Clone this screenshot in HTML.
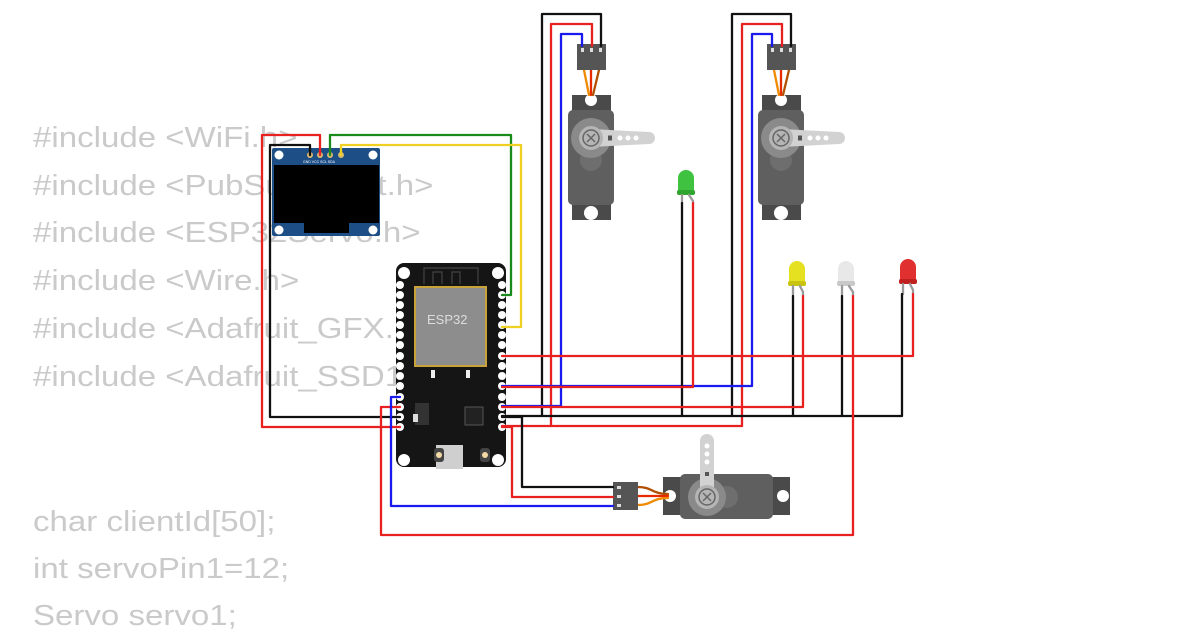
<!DOCTYPE html>
<html><head><meta charset="utf-8"><style>
html,body{margin:0;padding:0;background:#fff;width:1200px;height:630px;overflow:hidden}
svg{display:block}
.code{font-family:"Liberation Sans",sans-serif;font-size:29px;fill:#cacaca}
.w{fill:none;stroke-width:2.3;stroke-linejoin:round;stroke-linecap:round}
</style></head><body>
<svg width="1200" height="630" viewBox="0 0 1200 630" xmlns="http://www.w3.org/2000/svg">
<defs>
<g id="servoV">
  <rect x="-19" y="-43" width="39" height="125" fill="#4a4a4a"/>
  <rect x="-23" y="-28" width="46" height="95" rx="5" fill="#5f5f5f"/>
  <circle cx="0" cy="-38" r="6" fill="#fff"/>
  <circle cx="0" cy="75" r="7" fill="#fff"/>
  <circle cx="0" cy="22" r="11" fill="#6e6e6e"/>
  <circle cx="0" cy="0" r="20" fill="#8a8a8a"/>
  <path d="M0,-9 L58,-6 A6,6 0 0 1 58,6 L0,9 Z" fill="#d2d2d2"/>
  <circle cx="0" cy="0" r="12" fill="#b5b5b5"/>
  <circle cx="0" cy="0" r="8" fill="none" stroke="#666" stroke-width="1.5"/>
  <path d="M-4,-4L4,4M4,-4L-4,4" stroke="#666" stroke-width="1.5"/>
  <circle cx="29" cy="0" r="2.5" fill="#fff"/><circle cx="37" cy="0" r="2.5" fill="#fff"/><circle cx="45" cy="0" r="2.5" fill="#fff"/>
  <rect x="17" y="-2.5" width="4" height="5" fill="#555"/>
</g>
<g id="led">
  <path d="M-8,22 L-8,8 A8,8 0 0 1 8,8 L8,22 Z"/>
</g>
</defs>

<!-- code text -->
<g class="code" transform="translate(33,0) scale(1.14,1) translate(-33,0)">
<text x="33" y="147">#include &lt;WiFi.h&gt;</text>
<text x="33" y="195">#include &lt;PubSubClient.h&gt;</text>
<text x="33" y="242">#include &lt;ESP32Servo.h&gt;</text>
<text x="33" y="290">#include &lt;Wire.h&gt;</text>
<text x="33" y="338">#include &lt;Adafruit_GFX.h&gt;</text>
<text x="33" y="386">#include &lt;Adafruit_SSD1306.h&gt;</text>
<text x="33" y="531">char clientId[50];</text>
<text x="33" y="578">int servoPin1=12;</text>
<text x="33" y="625">Servo servo1;</text>
</g>

<!-- OLED -->
<rect x="272" y="148" width="108" height="88" rx="2" fill="#1d4f86"/>
<rect x="274" y="165" width="105" height="58" fill="#000"/>
<rect x="304" y="222" width="45" height="11" fill="#000"/>
<circle cx="279" cy="155" r="4.5" fill="#fff"/><circle cx="373" cy="155" r="4.5" fill="#fff"/>
<circle cx="279" cy="230" r="4.5" fill="#fff"/><circle cx="373" cy="230" r="4.5" fill="#fff"/>
<circle cx="310" cy="155" r="3" fill="#d8b870"/><circle cx="320" cy="155" r="3" fill="#d8b870"/>
<circle cx="330" cy="155" r="3" fill="#d8b870"/><circle cx="341" cy="155" r="3" fill="#d8b870"/>
<text x="303" y="163" font-size="3.5" fill="#fff" font-family="Liberation Sans,sans-serif">GND VCC SCL SDA</text>

<!-- ESP32 -->
<rect x="396" y="263" width="110" height="204" rx="8" fill="#151515"/>
<circle cx="404" cy="273" r="6" fill="#fff"/><circle cx="498" cy="273" r="6" fill="#fff"/>
<circle cx="404" cy="460" r="6" fill="#fff"/><circle cx="498" cy="460" r="6" fill="#fff"/>
<path d="M424,284 V268 H478 V284 M433,284 V272 H442 V284 M452,284 V272 H460 V284" fill="none" stroke="#444" stroke-width="1.2"/>
<rect x="414" y="286" width="73" height="81" fill="#c9a33a"/>
<rect x="416" y="288" width="69" height="77" fill="#8d8d8d"/>
<text x="427" y="324" font-size="13" fill="#ddd" font-family="Liberation Sans,sans-serif">ESP32</text>
<rect x="431" y="370" width="4" height="8" fill="#eee"/><rect x="466" y="370" width="4" height="8" fill="#eee"/>
<rect x="415" y="403" width="14" height="22" fill="#333"/><rect x="413" y="414" width="5" height="8" fill="#ddd"/>
<rect x="465" y="407" width="18" height="18" fill="#222" stroke="#555"/>
<rect x="436" y="445" width="27" height="24" fill="#cfcfcf"/>
<rect x="434" y="448" width="10" height="14" rx="3" fill="#444"/><circle cx="439" cy="455" r="3" fill="#f4d9a5"/>
<rect x="480" y="448" width="10" height="14" rx="3" fill="#444"/><circle cx="485" cy="455" r="3" fill="#f4d9a5"/>
<g fill="#fff">
<circle cx="400" cy="285" r="4"/><circle cx="400" cy="295" r="4"/><circle cx="400" cy="305" r="4"/><circle cx="400" cy="315" r="4"/><circle cx="400" cy="325" r="4"/><circle cx="400" cy="335" r="4"/><circle cx="400" cy="345" r="4"/><circle cx="400" cy="356" r="4"/><circle cx="400" cy="366" r="4"/><circle cx="400" cy="376" r="4"/><circle cx="400" cy="386" r="4"/><circle cx="400" cy="397" r="4"/><circle cx="400" cy="407" r="4"/><circle cx="400" cy="417" r="4"/><circle cx="400" cy="427" r="4"/>
<circle cx="502" cy="285" r="4"/><circle cx="502" cy="295" r="4"/><circle cx="502" cy="305" r="4"/><circle cx="502" cy="315" r="4"/><circle cx="502" cy="325" r="4"/><circle cx="502" cy="335" r="4"/><circle cx="502" cy="345" r="4"/><circle cx="502" cy="356" r="4"/><circle cx="502" cy="366" r="4"/><circle cx="502" cy="376" r="4"/><circle cx="502" cy="386" r="4"/><circle cx="502" cy="397" r="4"/><circle cx="502" cy="407" r="4"/><circle cx="502" cy="417" r="4"/><circle cx="502" cy="427" r="4"/>
</g>

<!-- Servos vertical -->
<use href="#servoV" x="591" y="138"/>
<use href="#servoV" x="781" y="138"/>
<g class="w" stroke-width="2.5">
<path d="M584,70 L589,95" stroke="#f08a00"/><path d="M591,70 L591,95" stroke="#e82a00"/><path d="M599,70 L593,95" stroke="#b05000"/>
<path d="M774,70 L779,95" stroke="#f08a00"/><path d="M781,70 L781,95" stroke="#e82a00"/><path d="M789,70 L783,95" stroke="#b05000"/>
</g>
<rect x="577" y="44" width="29" height="26" fill="#555"/>
<rect x="767" y="44" width="29" height="26" fill="#555"/>
<g fill="#ddd"><rect x="581" y="48" width="3" height="4"/><rect x="590" y="48" width="3" height="4"/><rect x="599" y="48" width="3" height="4"/>
<rect x="771" y="48" width="3" height="4"/><rect x="780" y="48" width="3" height="4"/><rect x="789" y="48" width="3" height="4"/></g>

<!-- Servo horizontal -->
<rect x="663" y="477" width="127" height="38" fill="#4a4a4a"/>
<rect x="680" y="474" width="93" height="45" rx="5" fill="#5f5f5f"/>
<circle cx="670" cy="496" r="6" fill="#fff"/><circle cx="783" cy="496" r="6" fill="#fff"/>
<circle cx="727" cy="497" r="11" fill="#6e6e6e"/>
<circle cx="707" cy="497" r="19" fill="#8a8a8a"/>
<path d="M700,497 L700,441 A7,7 0 0 1 714,441 L714,497 Z" fill="#d2d2d2"/>
<circle cx="707" cy="497" r="12" fill="#b5b5b5"/>
<circle cx="707" cy="497" r="8" fill="none" stroke="#666" stroke-width="1.5"/>
<path d="M703,493L711,501M711,493L703,501" stroke="#666" stroke-width="1.5"/>
<circle cx="707" cy="446" r="2.5" fill="#fff"/><circle cx="707" cy="454" r="2.5" fill="#fff"/><circle cx="707" cy="462" r="2.5" fill="#fff"/>
<rect x="705" y="472" width="4" height="4" fill="#555"/>
<g class="w" stroke-width="2.5">
<path d="M638,487 C652,487 652,494 668,494" stroke="#b05000"/>
<path d="M638,496 L668,496" stroke="#e82a00"/>
<path d="M638,505 C652,505 652,498 668,498" stroke="#f08a00"/>
</g>
<rect x="613" y="482" width="25" height="28" fill="#555"/>
<g fill="#ddd"><rect x="617" y="486" width="4" height="3"/><rect x="617" y="495" width="4" height="3"/><rect x="617" y="504" width="4" height="3"/></g>

<!-- LEDs -->
<g>
<use href="#led" x="686" y="170" fill="#3fc23f"/><rect x="677" y="190" width="18" height="5" rx="2" fill="#2fa52f"/>
<use href="#led" x="797" y="261" fill="#e5e020"/><rect x="788" y="281" width="18" height="5" rx="2" fill="#c9c410"/>
<use href="#led" x="846" y="261" fill="#e8e8e8"/><rect x="837" y="281" width="18" height="5" rx="2" fill="#c8c8c8"/>
<use href="#led" x="908" y="259" fill="#e03030"/><rect x="899" y="279" width="18" height="5" rx="2" fill="#c02020"/>
</g>
<g class="w" stroke="#999" stroke-width="1.5">
<path d="M682,195 V203"/><path d="M689,195 L693,201 V203"/>
<path d="M793,286 V296"/><path d="M800,286 L803,292 V296"/>
<path d="M842,286 V296"/><path d="M849,286 L853,292 V296"/>
<path d="M903,284 V294"/><path d="M910,284 L913,290 V294"/>
</g>

<!-- Wires -->
<g class="w">
<path d="M310,155 V145 H270 V417 H400" stroke="#111"/>
<path d="M320,155 V135 H262 V427 H400" stroke="#e82020"/>
<path d="M330,155 V135 H511 V295 H502" stroke="#1a8a1a"/>
<path d="M341,155 V145 H521 V327 H502" stroke="#f0d020"/>
<path d="M601,46 V14 H542 V416" stroke="#111"/>
<path d="M592,46 V24 H551 V426" stroke="#e82020"/>
<path d="M582,46 V34 H561 V406 H502" stroke="#1a1aee"/>
<path d="M791,46 V14 H732 V416" stroke="#111"/>
<path d="M782,46 V24 H742 V426" stroke="#e82020"/>
<path d="M772,46 V34 H752 V386 H502" stroke="#1a1aee"/>
<path d="M502,416 H902 V294" stroke="#111"/>
<path d="M682,203 V416" stroke="#111"/>
<path d="M793,296 V416" stroke="#111"/>
<path d="M842,296 V416" stroke="#111"/>
<path d="M502,356 H913 V294" stroke="#e82020"/>
<path d="M502,387 H693 V203" stroke="#e82020"/>
<path d="M502,407 H803 V296" stroke="#e82020"/>
<path d="M502,426 H742" stroke="#e82020"/>
<path d="M853,296 V535 H381 V407 H400" stroke="#e82020"/>
<path d="M400,397 H391 V506 H613" stroke="#1a1aee"/>
<path d="M502,427 H512 V497 H613" stroke="#e82020"/>
<path d="M502,417 H522 V487 H613" stroke="#111"/>
</g>
</svg>
</body></html>
